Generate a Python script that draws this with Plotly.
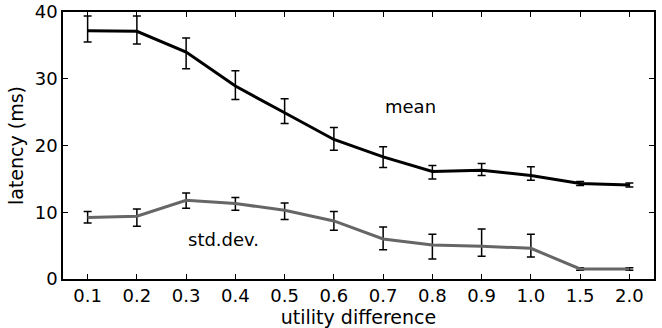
import plotly.graph_objects as go

categories = ["0.1", "0.2", "0.3", "0.4", "0.5", "0.6", "0.7", "0.8", "0.9", "1.0", "1.5", "2.0"]

mean_vals = [37.2, 37.1, 34.0, 28.9, 24.9, 20.9, 18.3, 16.1, 16.3, 15.5, 14.3, 14.1]
mean_err_plus = [2.2, 2.3, 2.1, 2.3, 2.1, 1.8, 1.5, 0.9, 1.0, 1.3, 0.3, 0.3]
mean_err_minus = [1.7, 1.9, 2.5, 2.0, 1.6, 1.6, 1.6, 1.1, 0.8, 0.7, 0.3, 0.3]

std_vals = [9.2, 9.4, 11.8, 11.3, 10.3, 8.7, 6.0, 5.1, 4.9, 4.6, 1.5, 1.5]
std_err_plus = [0.9, 1.1, 1.1, 0.9, 1.1, 1.4, 1.8, 1.6, 2.6, 2.1, 0.2, 0.2]
std_err_minus = [0.8, 1.5, 1.2, 1.0, 1.4, 1.4, 1.6, 2.1, 1.5, 1.3, 0.2, 0.2]

font_family = "DejaVu Sans"

fig = go.Figure()
fig.add_trace(go.Scatter(
    x=categories, y=mean_vals, mode="lines",
    line=dict(color="black", width=3),
    error_y=dict(type="data", array=mean_err_plus, arrayminus=mean_err_minus,
                 color="black", thickness=1.5, width=4),
    showlegend=False))
fig.add_trace(go.Scatter(
    x=categories, y=std_vals, mode="lines",
    line=dict(color="#666666", width=3),
    error_y=dict(type="data", array=std_err_plus, arrayminus=std_err_minus,
                 color="black", thickness=1.5, width=4),
    showlegend=False))

fig.add_annotation(x=6, y=25.8, text="mean", showarrow=False, xanchor="left",
                   font=dict(family=font_family, size=18, color="black"))
fig.add_annotation(x=2, y=5.9, text="std.dev.", showarrow=False, xanchor="left",
                   font=dict(family=font_family, size=18, color="black"))

fig.update_layout(
    width=662, height=328,
    margin=dict(l=63, r=8, t=12, b=49),
    paper_bgcolor="white", plot_bgcolor="white",
    font=dict(family=font_family, size=18, color="black"),
)
fig.update_xaxes(
    type="category", range=[-0.5, 11.5], automargin=False,
    showline=True, linecolor="black", linewidth=1.5, mirror="ticks",
    ticks="inside", ticklen=5, tickcolor="black", tickwidth=1,
    showgrid=False, zeroline=False,
    title=dict(text="utility difference", standoff=2, font=dict(size=19)),
)
fig.update_yaxes(
    range=[0, 40], tickvals=[0, 10, 20, 30, 40], automargin=False,
    showline=True, linecolor="black", linewidth=1.5, mirror="ticks",
    ticks="inside", ticklen=5, tickcolor="black", tickwidth=1,
    showgrid=False, zeroline=False,
    title=dict(text="latency (ms)", standoff=6, font=dict(size=19)),
)

fig.write_html("out.html")
